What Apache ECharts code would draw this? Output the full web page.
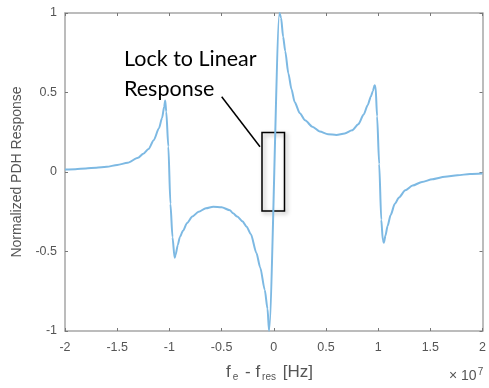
<!DOCTYPE html>
<html>
<head>
<meta charset="utf-8">
<style>html,body{margin:0;padding:0;background:#fff;}#c{width:489px;height:388px;}</style>
<script src="https://cdn.jsdelivr.net/npm/echarts@6/dist/echarts.min.js"></script>
</head>
<body>
<div id="c"></div>
<script>
// detuning (units of 1e7 Hz)
const detuning = [-2, -1.9, -1.8, -1.7, -1.6, -1.5, -1.4, -1.3, -1.25, -1.2, -1.15, -1.1, -1.07, -1.05, -1.04, -1.03, -1.01, -0.99, -0.97, -0.95, -0.94, -0.92, -0.9, -0.87, -0.83, -0.78, -0.72, -0.65, -0.58, -0.5, -0.42, -0.39, -0.35, -0.3, -0.26, -0.22, -0.166, -0.13, -0.086, -0.06, -0.045, 0.055, 0.07, 0.09, 0.11, 0.14, 0.17, 0.2, 0.25, 0.3, 0.37, 0.44, 0.52, 0.6, 0.68, 0.75, 0.81, 0.86, 0.9, 0.93, 0.95, 0.965, 0.975, 0.99, 1.01, 1.03, 1.045, 1.055, 1.07, 1.09, 1.12, 1.16, 1.2, 1.26, 1.33, 1.42, 1.52, 1.64, 1.76, 1.88, 2];
// normalized PDH response
const response = [0.015, 0.018, 0.022, 0.027, 0.033, 0.044, 0.058, 0.09, 0.115, 0.145, 0.2, 0.275, 0.34, 0.41, 0.45, 0.38, 0.16, -0.2, -0.41, -0.54, -0.52, -0.46, -0.41, -0.37, -0.32, -0.28, -0.25, -0.228, -0.218, -0.222, -0.24, -0.26, -0.28, -0.31, -0.344, -0.39, -0.51, -0.6, -0.742, -0.86, -1.0, 1.0, 0.97, 0.85, 0.76, 0.62, 0.52, 0.44, 0.37, 0.325, 0.285, 0.255, 0.238, 0.233, 0.242, 0.262, 0.3, 0.36, 0.42, 0.475, 0.51, 0.545, 0.54, 0.35, 0.05, -0.3, -0.43, -0.445, -0.4, -0.34, -0.27, -0.2, -0.16, -0.115, -0.085, -0.063, -0.045, -0.03, -0.02, -0.013, -0.01];
const xTickLabels = ['-2', '-1.5', '-1', '-0.5', '0', '0.5', '1', '1.5', '2'];
const yTickLabels = ['-1', '-0.5', '0', '0.5', '1'];

const chart = echarts.init(document.getElementById('c'), null, {renderer: 'canvas'});
const axisCol = '#a6a6a6';
const labCol = '#555';
const labelFont = 'Liberation Sans';
function xLab(v){ const i = Math.round((v + 2) / 0.5); return xTickLabels[i] !== undefined ? xTickLabels[i] : ''; }
function yLab(v){ const i = Math.round((v + 1) / 0.5); return yTickLabels[i] !== undefined ? yTickLabels[i] : ''; }
const common = {
  axisLine: {show: true, onZero: false, lineStyle: {color: axisCol, width: 1.5}},
  axisTick: {show: true, inside: true, length: 3, lineStyle: {color: '#777', width: 1}},
  splitLine: {show: false}
};
chart.setOption({
  animation: false,
  backgroundColor: '#fff',
  grid: {left: 65, right: 6, top: 13, bottom: 57, show: false},
  xAxis: [
    Object.assign({type: 'value', min: -2, max: 2, interval: 0.5, position: 'bottom',
      axisLabel: {formatter: xLab, color: labCol, fontSize: 12.5, fontFamily: labelFont, margin: 10}}, common),
    Object.assign({type: 'value', min: -2, max: 2, interval: 0.5, position: 'top', axisLabel: {show: false}}, common)
  ],
  yAxis: [
    Object.assign({type: 'value', min: -1, max: 1, interval: 0.5, position: 'left',
      axisLabel: {formatter: yLab, color: labCol, fontSize: 12.5, fontFamily: labelFont, margin: 8},
      name: 'Normalized PDH Response', nameLocation: 'middle', nameGap: 38,
      nameTextStyle: {color: labCol, fontSize: 14, fontFamily: labelFont}}, common),
    Object.assign({type: 'value', min: -1, max: 1, interval: 0.5, position: 'right', axisLabel: {show: false}}, common)
  ],
  series: [{
    type: 'line',
    data: detuning.map((x, i) => [x, response[i]]),
    showSymbol: false,
    smooth: 0.25,
    smoothMonotone: 'x',
    lineStyle: {color: '#7db9e3', width: 2},
    clip: true
  }],
  graphic: [
    {type: 'text', left: 226, top: 364,
      style: {
        text: '{n|f}{s|e}{n| - f}{s|res}{n| [Hz]}',
        rich: {
          n: {fontSize: 17, fontFamily: labelFont, fill: labCol},
          s: {fontSize: 10, fontFamily: labelFont, fill: labCol, verticalAlign: 'bottom', padding: [10, 2, 0, 2]}
        }
      }},
    {type: 'text', left: 449, top: 367,
      style: {
        text: '{n|\u00d7 10}{p|7}',
        rich: {
          n: {fontSize: 14, fontFamily: labelFont, fill: labCol},
          p: {fontSize: 10, fontFamily: labelFont, fill: labCol, verticalAlign: 'top', padding: [0, 0, 9, 1]}
        }
      }},
    {type: 'text', left: 124, top: 44,
      style: {text: 'Lock to Linear\nResponse', font: '21.5px Lato', fill: '#000', lineHeight: 30}},
    {type: 'line', shape: {x1: 221.7, y1: 96.7, x2: 260, y2: 146.7}, style: {stroke: '#000', lineWidth: 1.5}},
    {type: 'rect', shape: {x: 262, y: 132.5, width: 22.5, height: 78.5},
      style: {fill: 'rgba(0,0,0,0)', stroke: '#000', lineWidth: 1.5, shadowBlur: 4, shadowColor: 'rgba(0,0,0,0.35)', shadowOffsetX: 2, shadowOffsetY: 2}}
  ]
});
</script>
</body>
</html>
